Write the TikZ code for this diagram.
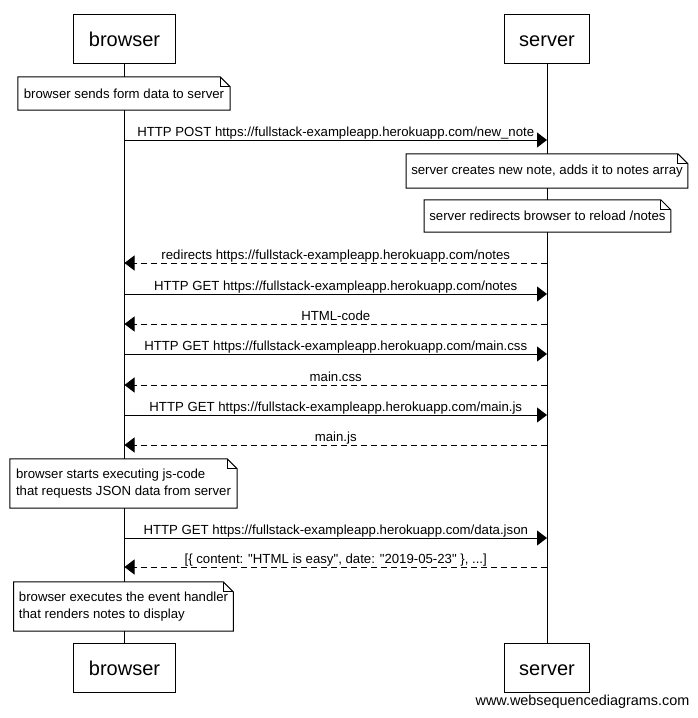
\documentclass[tikz,border=0pt]{standalone}
\usepackage{fontspec}
\setmainfont{Liberation Sans}
\usetikzlibrary{arrows.meta}

% Outline of a note with a folded top-right corner, drawn over node #1
\newcommand{\foldnote}[1]{%
  \draw[noteline] (#1.north west) -- ([xshift=-10pt]#1.north east)
    -- ([yshift=-10pt]#1.north east) -- (#1.south east)
    -- (#1.south west) -- cycle;
  \draw[noteline] ([xshift=-10pt]#1.north east) |- ([yshift=-10pt]#1.north east);
}

\tikzset{
  actor/.style={draw, fill=white, line width=1pt, inner xsep=15pt,
    text height=15pt, text depth=0pt,
    minimum height=49pt, font=\fontsize{20}{24}\selectfont},
  life/.style={line width=1pt},
  notebg/.style={fill=white, draw=none, inner xsep=5pt, inner ysep=0pt,
    font=\fontsize{13.2}{17}\selectfont},
  noteline/.style={line width=1pt, line join=miter},
  msg/.style={line width=1pt, -{Triangle[length=10pt,width=15pt]}},
  reply/.style={msg, dash pattern=on 6pt off 4pt},
  lbl/.style={anchor=base, yshift=4pt, inner sep=0pt,
    font=\fontsize{13.2}{15}\selectfont},
}

\begin{document}
\begin{tikzpicture}[x=1pt, y=-1pt]
  \useasboundingbox[fill=white] (0,0) rectangle (698,718);

  % participants, top and bottom
  \node[actor] (bt) at (124.5,38.5) {browser};
  \node[actor] (st) at (547,38.5) {server};
  \node[actor] (bb) at (124.5,668) {browser};
  \node[actor] (sb) at (547,668) {server};

  % lifelines
  \draw[life] (bt) -- (bb);
  \draw[life] (st) -- (sb);

  % notes
  \node[notebg, minimum width=212pt, minimum height=33pt] (n1) at (124,93.5)
    {browser sends form data to server};
  \foldnote{n1}

  \draw[msg] (bt |- 0,140) -- (st |- 0,140)
    node[lbl, midway] {HTTP POST https://fullstack-exampleapp.herokuapp.com/new\_note};

  \node[notebg, minimum width=280pt, minimum height=34pt] (n2) at (547,171)
    {server creates new note, adds it to notes array};
  \foldnote{n2}

  \node[notebg, minimum width=245pt, minimum height=32pt] (n3) at (547.5,216)
    {server redirects browser to reload /notes};
  \foldnote{n3}

  % request / response messages
  \draw[reply] (st |- 0,263) -- (bt |- 0,263)
    node[lbl, midway] {redirects https://fullstack-exampleapp.herokuapp.com/notes};
  \draw[msg] (bt |- 0,294) -- (st |- 0,294)
    node[lbl, midway] {HTTP GET https://fullstack-exampleapp.herokuapp.com/notes};
  \draw[reply] (st |- 0,324) -- (bt |- 0,324)
    node[lbl, midway] {HTML-code};
  \draw[msg] (bt |- 0,354) -- (st |- 0,354)
    node[lbl, midway] {HTTP GET https://fullstack-exampleapp.herokuapp.com/main.css};
  \draw[reply] (st |- 0,385) -- (bt |- 0,385)
    node[lbl, midway] {main.css};
  \draw[msg] (bt |- 0,415) -- (st |- 0,415)
    node[lbl, midway] {HTTP GET https://fullstack-exampleapp.herokuapp.com/main.js};
  \draw[reply] (st |- 0,445) -- (bt |- 0,445)
    node[lbl, midway] {main.js};

  \node[notebg, minimum width=227pt, minimum height=49pt, align=left]
    (n4) at (123.5,483.5)
    {browser starts executing js-code\\that requests JSON data from server};
  \foldnote{n4}

  \draw[msg] (bt |- 0,538) -- (st |- 0,538)
    node[lbl, midway] {HTTP GET https://fullstack-exampleapp.herokuapp.com/data.json};
  \draw[reply] (st |- 0,567) -- (bt |- 0,567)
    node[lbl, midway] {[\{ content: \textquotedbl HTML is easy\textquotedbl, date: \textquotedbl 2019-05-23\textquotedbl\ \}, ...]};

  \node[notebg, minimum width=219pt, minimum height=49pt, align=left]
    (n5) at (123.5,606.5)
    {browser executes the event handler\\that renders notes to display};
  \foldnote{n5}

  % credit line
  \node[anchor=base, inner sep=0pt, font=\fontsize{14.4}{16}\selectfont] (credit)
    at (582.5,705) {www.websequencediagrams.com};
\end{tikzpicture}
\end{document}
